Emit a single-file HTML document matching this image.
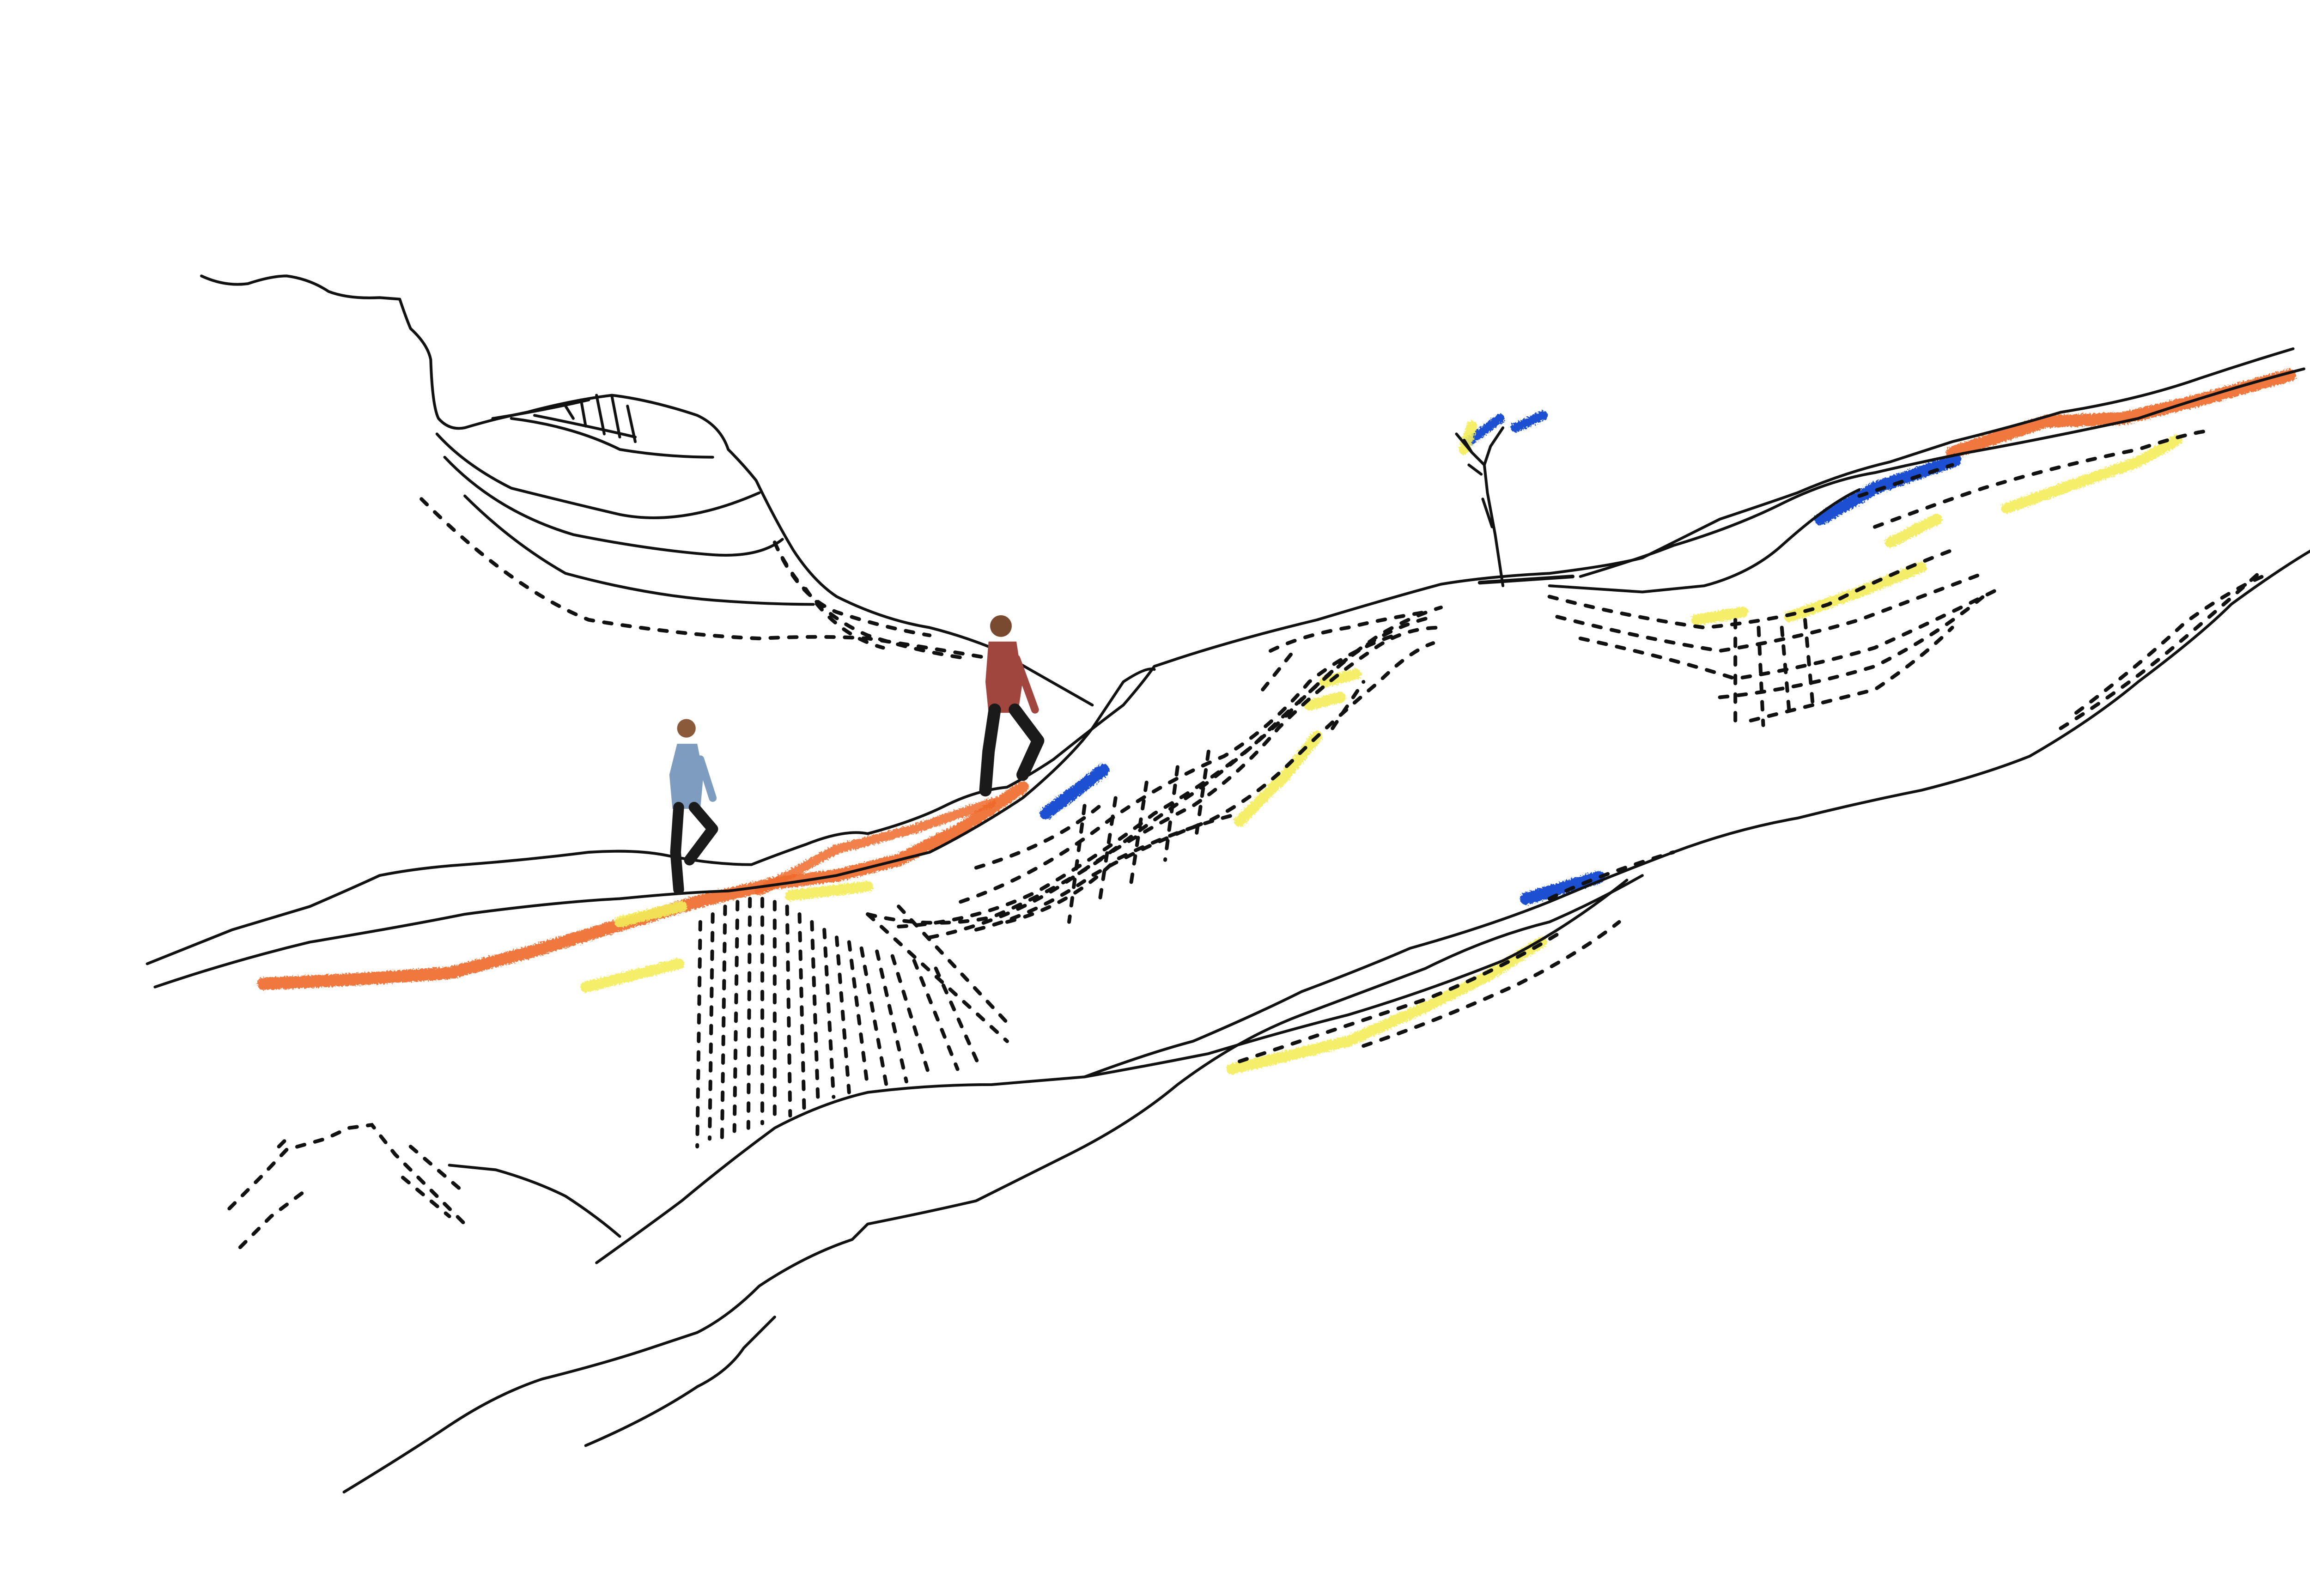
<!DOCTYPE html>
<html><head><meta charset="utf-8"><style>
html,body{margin:0;padding:0;background:#fff;}
svg{display:block;}
</style></head><body>
<svg width="5215" height="3455" viewBox="0 0 1555 1030" xmlns="http://www.w3.org/2000/svg">
<defs>
<filter id="rough" x="-10%" y="-50%" width="120%" height="200%">
<feTurbulence type="fractalNoise" baseFrequency="0.9" numOctaves="2" result="n"/>
<feDisplacementMap in="SourceGraphic" in2="n" scale="3"/>
</filter>
</defs>
<rect width="1555" height="1030" fill="#fff"/>
<!-- crayon color strokes (under lines) -->
<g fill="none" stroke-linecap="round" stroke-linejoin="round" filter="url(#rough)">
<path d="M170,635 L230,632 L290,628 L340,615 L400,597 L450,582 L500,570 L540,565 L580,555 L620,535 L660,508" stroke="#ee6a2a" stroke-width="8" opacity="0.9"/>
<path d="M490,575 L540,548 L590,535 L640,518" stroke="#ee6a2a" stroke-width="6" opacity="0.85"/>
<path d="M1260,292 L1320,272 L1370,270 L1420,258 L1478,242" stroke="#ee6a2a" stroke-width="8" opacity="0.9"/>
<path d="M1175,335 L1210,315 L1262,297" stroke="#1f4fd1" stroke-width="8"/>
<path d="M675,525 L712,497" stroke="#1f4fd1" stroke-width="8"/>
<path d="M985,580 L1032,566" stroke="#1f4fd1" stroke-width="8"/>
<path d="M948,285 L968,270 M978,276 L996,268" stroke="#1f4fd1" stroke-width="6"/>
<g stroke="#f3ec5a" stroke-width="7" opacity="0.9">
<path d="M378,637 L438,622"/>
<path d="M400,595 L440,585 M510,578 L560,572"/>
<path d="M800,530 L830,500 L850,475 M855,440 L875,435 M845,455 L865,450"/>
<path d="M795,690 L870,672 L920,650 L960,630 L995,608"/>
<path d="M1220,350 L1250,335 M1295,328 L1340,312 L1380,298 L1405,284"/>
<path d="M1155,398 L1200,382 L1240,366 M1095,400 L1125,395"/>
<path d="M950,275 L945,290"/>
</g>
</g>
<g fill="none" stroke="#111" stroke-width="1.8" stroke-linecap="round" stroke-linejoin="round">
<!-- top-left mountain -->
<path d="M130,178 Q145,185 160,183 Q175,178 185,178 Q200,180 212,188 Q225,193 245,192 L258,193 Q262,205 265,212 Q276,222 278,232 Q279,262 283,270 Q290,278 300,276 Q320,270 340,266 Q370,258 395,255 Q420,258 450,268 Q465,275 470,290 Q480,300 488,310 Q500,335 512,355 Q525,375 540,385 Q570,400 600,405 Q620,410 640,418 Q670,435 705,455"/>
<path d="M282,280 Q300,300 330,315 Q370,325 400,332 Q440,340 490,318"/>
<path d="M287,295 Q320,330 370,345 Q420,355 460,358 Q490,360 505,348"/>
<path d="M300,320 Q330,350 365,370 Q420,385 470,388 Q500,390 525,390"/>
<path d="M318,270 Q350,265 380,258 M330,270 Q370,275 400,290 Q430,295 460,295"/>
<path d="M345,268 Q380,275 410,282 M365,262 L370,270 M375,258 L378,275 M385,255 L390,280 M395,256 L400,282 M405,262 L410,285"/>
<!-- main ridge -->
<path d="M95,622 L150,600 L200,585 Q230,572 245,565 Q270,560 300,558 Q340,555 380,550 Q410,548 430,552 Q460,558 485,558 Q500,552 520,545 Q545,535 560,538 Q590,530 610,520 Q630,510 650,508 Q665,500 680,490 Q705,470 725,455 Q738,440 745,430 L760,425 Q800,412 850,400 Q900,385 930,377 Q960,372 1000,370 Q1040,365 1060,360 Q1090,345 1110,335 Q1140,325 1160,318 Q1190,305 1220,298 L1260,285 Q1300,275 1330,266 Q1380,258 1420,244 Q1450,234 1480,225"/>
<path d="M100,637 Q150,620 200,608 Q260,598 300,590 Q360,582 400,580 Q440,576 470,575 Q510,570 540,565 Q580,555 600,550 Q630,535 660,515 Q690,490 705,470 L725,440 Q740,430 745,432"/>
<path d="M1020,372 Q1060,360 1080,352 Q1120,340 1150,325 Q1180,310 1210,305 Q1240,298 1270,292 Q1320,283 1380,270 Q1440,250 1487,238"/>
<path d="M1000,378 L1060,382 L1100,378 Q1130,370 1150,352 Q1180,325 1200,316"/>
<!-- lower lines -->
<path d="M385,815 Q420,790 440,775 Q470,750 500,728 Q530,712 560,705 Q600,700 640,700 L700,695 Q740,680 770,672 Q810,655 840,640 Q880,625 910,612 Q960,598 1000,582 Q1040,565 1080,550 Q1120,535 1160,528 Q1200,518 1240,510 Q1280,500 1310,488 Q1350,465 1380,440 Q1420,410 1440,390 Q1470,368 1492,355"/>
<path d="M222,963 Q260,940 290,920 Q320,900 350,890 Q390,880 420,870 L450,860 Q470,850 490,830 Q520,810 550,800 L560,790 Q600,782 630,775 Q660,760 690,745 Q730,725 760,700 Q800,670 840,655 Q880,640 920,625 Q960,605 1000,595 Q1030,582 1060,565"/>
<path d="M378,933 Q420,915 450,895 Q470,885 480,870 L500,850"/>
<path d="M700,695 Q740,688 780,680 Q830,665 870,655 Q920,640 970,620 Q1010,600 1050,568"/>
<path d="M290,752 L320,755 Q345,762 365,772 Q385,785 400,798"/>
<!-- tree -->
<path d="M970,378 L965,345 L960,318 L958,300 L950,292 L940,280 M958,300 L962,288 L970,276 M963,340 L957,322 M950,292 L945,284 M956,306 L948,300"/>
<path d="M955,376 L1015,372" stroke-width="2.4"/>
</g>
<!-- dashed hatching -->
<g fill="none" stroke="#111" stroke-width="2.4" stroke-dasharray="5 7" stroke-linecap="round">
<path d="M272,322 Q330,380 380,400 Q440,410 490,412 Q530,410 560,412 Q600,418 640,425"/>
<path d="M500,350 Q515,385 540,395 Q570,405 600,410"/>
<path d="M505,360 Q525,395 560,410 Q590,420 625,425"/>
<path d="M520,380 Q540,410 570,418"/>
<!-- field under people -->
<path d="M452,595 L450,740 M460,590 L458,735 M468,585 L466,735 M476,582 L474,730 M484,580 L483,728 M492,580 L492,725 M500,582 L500,722 M508,585 L510,720 M516,590 L519,716 M524,595 L528,712 M532,600 L538,708 M540,605 L548,705 M548,608 L560,702 M556,612 L572,700 M566,614 L585,698 M576,617 L600,695 M590,620 L618,690 M604,625 L632,688"/>
<path d="M560,590 L650,672 M580,585 L650,660"/>
<!-- middle field -->
<path d="M560,590 Q600,600 640,592 Q680,575 710,555 Q740,532 770,512 Q800,490 830,462 Q860,430 890,410 Q910,398 930,392"/>
<path d="M580,598 Q630,595 670,575 Q710,552 745,525 Q780,505 810,480 Q840,450 870,425 Q895,405 925,398"/>
<path d="M600,605 Q650,595 690,568 Q730,540 770,520 Q800,500 825,470 Q855,440 885,420 Q905,405 930,405"/>
<path d="M620,582 Q670,565 715,530 Q750,505 790,488 Q820,470 845,440 Q870,420 900,410"/>
<path d="M630,600 Q670,590 705,565 Q740,545 780,530 Q810,515 835,490 Q860,465 890,440 Q910,420 925,415"/>
<path d="M650,595 Q690,585 720,555 Q760,535 800,525 M630,560 Q680,545 710,520"/>
<path d="M700,520 L690,595 M720,515 L710,580 M740,505 L730,570 M760,495 L752,555 M780,485 L772,540"/>
<path d="M820,420 Q840,410 870,405 Q890,400 920,395 M815,445 L835,420 M860,470 L880,440"/>
<!-- right field -->
<path d="M1000,385 Q1050,398 1100,405 Q1150,400 1180,390 Q1220,370 1260,355"/>
<path d="M1005,398 Q1060,412 1110,420 Q1160,412 1200,400 Q1240,385 1280,370"/>
<path d="M1020,412 Q1080,425 1120,438 Q1170,430 1210,418 Q1250,400 1290,380"/>
<path d="M1110,450 Q1160,445 1210,430 Q1250,410 1280,385"/>
<path d="M1130,465 Q1170,455 1210,445 Q1240,425 1260,405"/>
<path d="M1120,400 L1120,470 M1135,405 L1138,468 M1150,405 L1155,462 M1165,400 L1170,455"/>
<path d="M1200,320 Q1230,310 1260,300 M1210,340 Q1250,325 1280,315 Q1330,300 1380,290 Q1410,280 1425,278"/>
<path d="M1330,470 Q1370,445 1400,420 Q1430,395 1460,368"/>
<path d="M1340,460 Q1380,430 1410,402 Q1440,380 1465,370"/>
<!-- bottom left -->
<path d="M148,780 L168,760 L185,742 L210,735 L225,728 L240,726 L255,745 L275,765 L300,790"/>
<path d="M155,805 L175,785 L195,770 M180,740 L185,735 M260,760 L290,785 M265,740 L300,770"/>
<path d="M800,685 Q860,665 920,645 Q970,625 1010,600"/>
<path d="M880,675 Q930,658 980,635 Q1020,615 1045,595 M1000,580 Q1030,565 1080,550"/>
</g>
<!-- figures -->
<g stroke-linecap="round" stroke-linejoin="round">
<circle cx="443" cy="470" r="6" fill="#8a5a3a"/>
<path d="M437,480 L450,480 L454,500 L452,522 L434,522 L432,500 Z" fill="#7d9cc0"/>
<path d="M452,490 L460,515" stroke="#7d9cc0" stroke-width="5"/>
<path d="M438,521 L436,550 L438,574 M448,521 L460,535 L445,555" stroke="#1a1a1a" stroke-width="7" fill="none"/>
<circle cx="646" cy="404" r="7" fill="#7a4a30"/>
<path d="M638,414 L656,414 L660,440 L657,460 L638,460 L636,440 Z" fill="#a0463e"/>
<path d="M656,425 L668,458" stroke="#a0463e" stroke-width="5"/>
<path d="M642,458 L638,485 L636,510 M655,458 L670,478 L660,500" stroke="#1a1a1a" stroke-width="8" fill="none"/>
</g>
</svg>
</body></html>
